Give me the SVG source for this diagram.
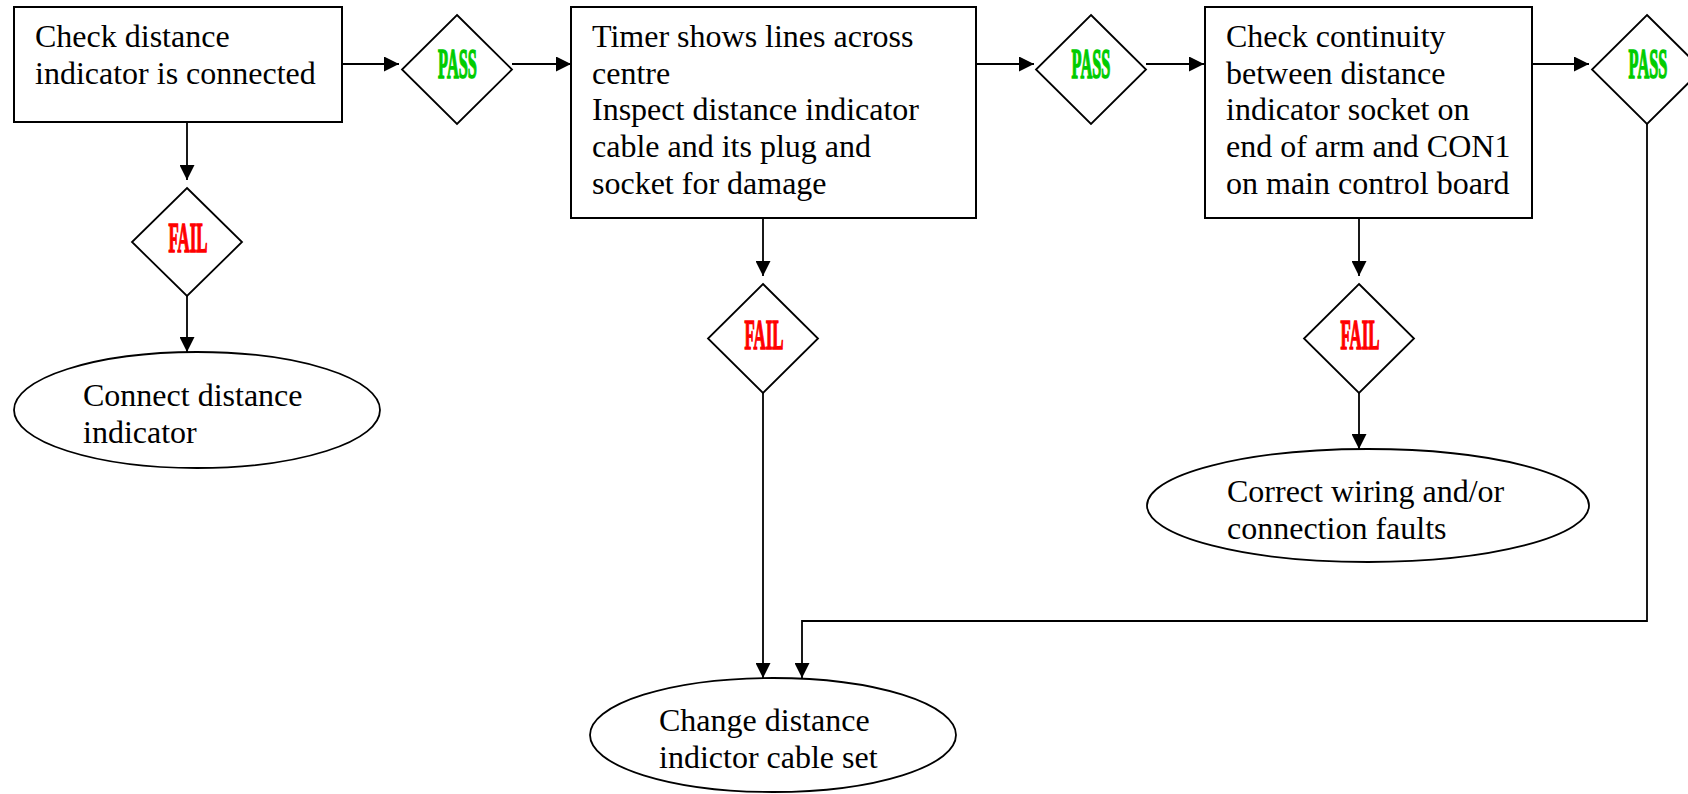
<svg xmlns="http://www.w3.org/2000/svg" width="1688" height="794" viewBox="0 0 1688 794">
<defs>
<marker id="arr" markerUnits="userSpaceOnUse" markerWidth="15" markerHeight="15" refX="15" refY="7.5" orient="auto">
<path d="M0,0 L15,7.5 L0,15 z" fill="#000"/>
</marker>
<style>
.box{fill:#fff;stroke:#000;stroke-width:2}
.dia{fill:#fff;stroke:#000;stroke-width:1.8}
.ell{fill:#fff;stroke:#000;stroke-width:1.8}
.t{font-family:"Liberation Serif","Times New Roman",serif;font-size:32px;fill:#000}
.pass{font-family:"Liberation Serif","Times New Roman",serif;font-weight:bold;font-size:42px;fill:#00CC00;stroke:#00CC00;stroke-width:1.6}
.fail{font-family:"Liberation Serif","Times New Roman",serif;font-weight:bold;font-size:42px;fill:#FF0000;stroke:#FF0000;stroke-width:1.6}
.c{fill:none;stroke:#000;stroke-width:1.8;marker-end:url(#arr)}
</style>
</defs>
<rect width="1688" height="794" fill="#fff"/>
<g id="connectors">
<path class="c" d="M342,64 H399"/>
<path class="c" d="M512,64 H571"/>
<path class="c" d="M976,64 H1034"/>
<path class="c" d="M1146,64 H1204"/>
<path class="c" d="M1532,64 H1589"/>
<path class="c" d="M1647,124 V621 H802 V678"/>
<path class="c" d="M187,122 V180"/>
<path class="c" d="M187,296 V352"/>
<path class="c" d="M763,218 V276"/>
<path class="c" d="M763,393 V678"/>
<path class="c" d="M1359,218 V276"/>
<path class="c" d="M1359,393 V449"/>
</g>
<g id="box1">
<rect class="box" x="14" y="7" width="328" height="115"/>
<text class="t" x="35" y="47">Check distance</text>
<text class="t" x="35" y="84">indicator is connected</text>
</g>
<g id="pass1">
<polygon class="dia" points="457,15 512,69.5 457,124 402,69.5"/>
<text class="pass" transform="translate(457.5,78) scale(0.39,1)" text-anchor="middle">PASS</text>
</g>
<g id="box2">
<rect class="box" x="571" y="7" width="405" height="211"/>
<text class="t" x="592" y="47">Timer shows lines across</text>
<text class="t" x="592" y="84">centre</text>
<text class="t" x="592" y="120">Inspect distance indicator</text>
<text class="t" x="592" y="157">cable and its plug and</text>
<text class="t" x="592" y="194">socket for damage</text>
</g>
<g id="pass2">
<polygon class="dia" points="1091,15 1146,69.5 1091,124 1036,69.5"/>
<text class="pass" transform="translate(1091,78) scale(0.39,1)" text-anchor="middle">PASS</text>
</g>
<g id="box3">
<rect class="box" x="1205" y="7" width="327" height="211"/>
<text class="t" x="1226" y="47">Check continuity</text>
<text class="t" x="1226" y="84">between distance</text>
<text class="t" x="1226" y="120">indicator socket on</text>
<text class="t" x="1226" y="157">end of arm and CON1</text>
<text class="t" x="1226" y="194">on main control board</text>
</g>
<g id="pass3">
<polygon class="dia" points="1647,15 1702,69.5 1647,124 1592,69.5"/>
<text class="pass" transform="translate(1648,78) scale(0.39,1)" text-anchor="middle">PASS</text>
</g>
<g id="fail1">
<polygon class="dia" points="187,188 242,242 187,296 132,242"/>
<text class="fail" transform="translate(188,252) scale(0.4,1)" text-anchor="middle">FAIL</text>
</g>
<g id="fail2">
<polygon class="dia" points="763,284 818,338.5 763,393 708,338.5"/>
<text class="fail" transform="translate(764,348.5) scale(0.4,1)" text-anchor="middle">FAIL</text>
</g>
<g id="fail3">
<polygon class="dia" points="1359,284 1414,338.5 1359,393 1304,338.5"/>
<text class="fail" transform="translate(1360,348.5) scale(0.4,1)" text-anchor="middle">FAIL</text>
</g>
<g id="end1">
<ellipse class="ell" cx="197" cy="410" rx="183" ry="58"/>
<text class="t" x="83" y="406">Connect distance</text>
<text class="t" x="83" y="443">indicator</text>
</g>
<g id="end2">
<ellipse class="ell" cx="1368" cy="505.5" rx="221" ry="56.5"/>
<text class="t" x="1227" y="502">Correct wiring and/or</text>
<text class="t" x="1227" y="539">connection faults</text>
</g>
<g id="end3">
<ellipse class="ell" cx="773" cy="735" rx="183" ry="57"/>
<text class="t" x="659" y="731">Change distance</text>
<text class="t" x="659" y="768">indictor cable set</text>
</g>
</svg>
